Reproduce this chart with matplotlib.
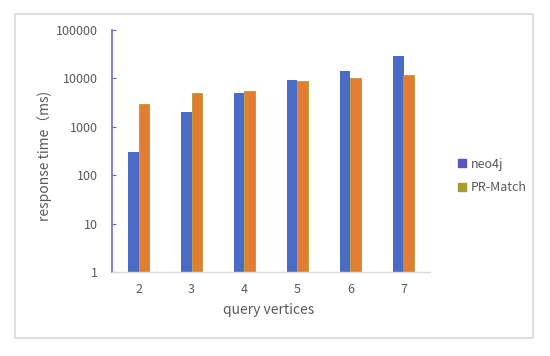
import numpy as np
import matplotlib.pyplot as plt
from matplotlib.patches import Rectangle, Patch

plt.rcParams['font.family'] = ['Noto Sans CJK SC', 'DejaVu Sans']

categories = ['2', '3', '4', '5', '6', '7']
neo4j = [300, 2000, 5000, 9200, 14000, 28500]
pr_match = [3000, 5000, 5500, 8700, 10000, 11500]

blue = '#4A6CC4'
orange = '#E27D32'
txt = '#595959'

fig = plt.figure(figsize=(5.5, 3.56), dpi=100)
fig.patch.set_facecolor('white')

# outer chart border
fig.patches.append(Rectangle((15 / 550, 18 / 356), 518 / 550, 324 / 356,
                             transform=fig.transFigure, fill=False,
                             edgecolor='#D9D9D9', linewidth=1.2))

ax = fig.add_axes([112 / 550, 84 / 356, 318 / 550, 242 / 356])
x = np.arange(len(categories))
w = 0.2
ax.bar(x - w / 2, neo4j, w, color=blue)
ax.bar(x + w / 2, pr_match, w, color=orange, edgecolor='#B09A35', linewidth=0.6)

ax.set_yscale('log')
ax.set_ylim(1, 100000)
ax.set_xlim(-0.5, len(categories) - 0.5)
ax.set_yticks([1, 10, 100, 1000, 10000, 100000])
ax.set_yticklabels(['1', '10', '100', '1000', '10000', '100000'])
ax.minorticks_off()
ax.set_xticks(x)
ax.set_xticklabels(categories)

for s in ['top', 'right']:
    ax.spines[s].set_visible(False)
ax.spines['left'].set_color('#6A6AC8')
ax.spines['left'].set_linewidth(1.2)
ax.spines['bottom'].set_color('#D9D9D9')
ax.spines['bottom'].set_linewidth(1.0)
ax.tick_params(axis='y', direction='in', length=3, color='#6A6AC8', labelsize=9,
               labelcolor=txt, pad=10)
ax.tick_params(axis='x', length=0, labelsize=9, labelcolor=txt, pad=8)

fig.text(45 / 550, 1 - 156 / 356, 'response time（ms)', rotation=90,
         ha='center', va='center', fontsize=10, color=txt)
fig.text(269 / 550, 1 - 310 / 356, 'query vertices', ha='center', va='center',
         fontsize=10, color=txt)

handles = [Patch(color='#5A55BE'), Patch(color='#A89E30')]
fig.legend(handles, ['neo4j', 'PR-Match'], loc='center left',
           bbox_to_anchor=(447 / 550, 1 - 176 / 356), frameon=False,
           fontsize=9, labelcolor=txt, handlelength=0.6, handleheight=0.6,
           handletextpad=0.4, labelspacing=0.85)

fig.savefig('out.png', dpi=100)
